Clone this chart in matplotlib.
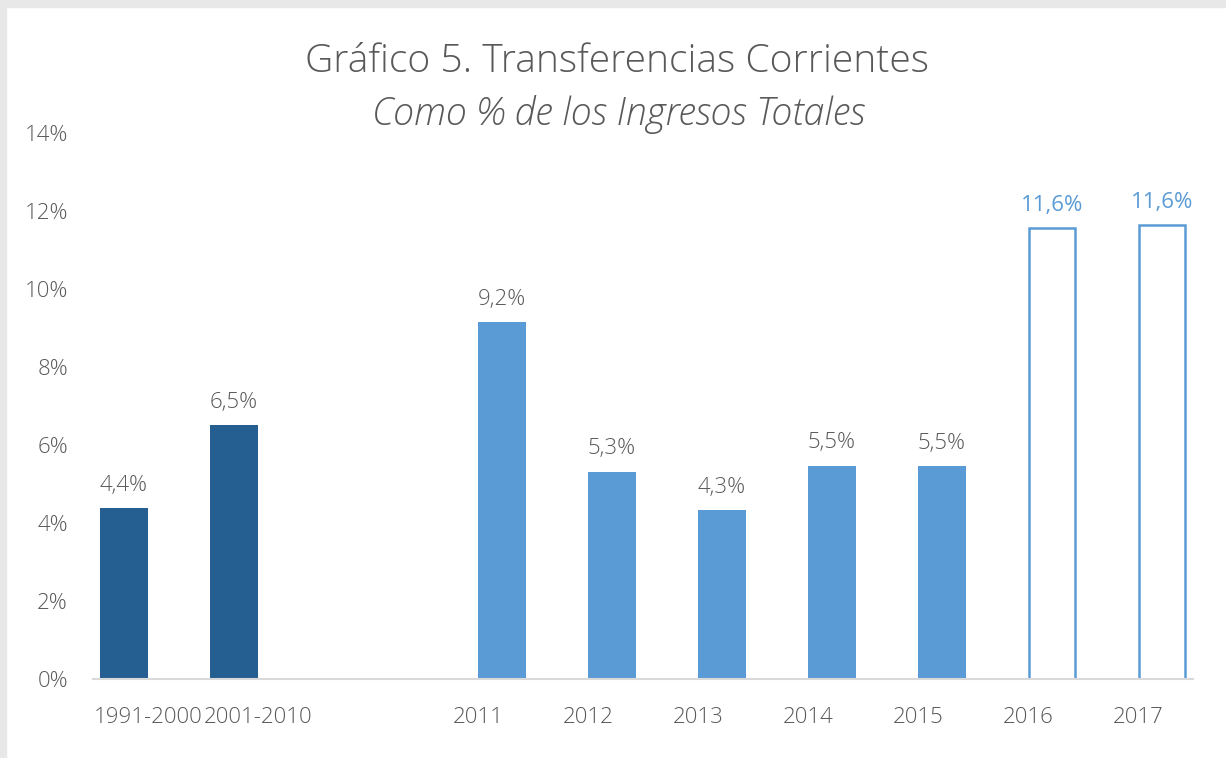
import matplotlib.pyplot as plt
from matplotlib.patches import Rectangle
import numpy as np

# datos
categorias = ['1991-2000', '2001-2010', '', '2011', '2012', '2013', '2014', '2015', '2016', '2017']
periodos = [4.38, 6.51]            # promedios 1991-2000, 2001-2010
anuales = [9.15, 5.31, 4.33, 5.47, 5.46]   # 2011-2015
proyeccion = [11.56, 11.63]        # 2016-2017

oscuro = '#255e91'
claro = '#5b9bd5'
gris = '#595959'

plt.rcParams['font.family'] = ['Open Sans', 'DejaVu Sans']

W, H = 1226, 758
fig = plt.figure(figsize=(W / 100, H / 100), dpi=100)

# marco gris arriba e izquierda
fig.patches.append(Rectangle((0, 1 - 7 / H), 1, 7 / H, transform=fig.transFigure,
                             color='#e8e8e8', zorder=0))
fig.patches.append(Rectangle((0, 0), 6 / W, 1, transform=fig.transFigure,
                             color='#e8e8e8', zorder=0))

ax = fig.add_axes([93 / W, (H - 679) / H, 1100 / W, 546 / H])

x = np.arange(len(categorias))
ancho = 0.436
off = ancho / 2

b1 = ax.bar(x[0:2] - off, periodos, ancho, color=oscuro)
b2 = ax.bar(x[3:8] + off, anuales, ancho, color=claro)
b3 = ax.bar(x[8:10] + off, proyeccion, ancho - 0.02, facecolor='white',
            edgecolor=claro, linewidth=1.8)

fmt = lambda v: f'{v:.1f}%'.replace('.', ',')
for bars, vals, col, peso in [(b1, periodos, gris, 'light'), (b2, anuales, gris, 'light'),
                              (b3, proyeccion, claro, 'normal')]:
    for r, v in zip(bars, vals):
        ax.annotate(fmt(v), (r.get_x() + r.get_width() / 2, v), xytext=(0, 9),
                    textcoords='offset points', ha='center', va='bottom',
                    fontsize=16, color=col, fontweight=peso)

ax.set_xlim(-0.5, len(categorias) - 0.5)
ax.set_ylim(0, 14)
ax.set_yticks(np.arange(0, 15, 2))
ax.set_yticklabels([f'{t}%' for t in range(0, 15, 2)])
ax.set_xticks(x)
ax.set_xticklabels(categorias)
ax.tick_params(axis='both', length=0, labelsize=16, labelcolor=gris)
ax.tick_params(axis='x', pad=20)
ax.tick_params(axis='y', pad=18)
for lbl in ax.get_xticklabels() + ax.get_yticklabels():
    lbl.set_fontweight('light')
for s in ['top', 'right', 'left']:
    ax.spines[s].set_visible(False)
ax.spines['bottom'].set_color('#d9d9d9')
ax.spines['bottom'].set_linewidth(1.5)

fig.text(617 / W, 1 - 62 / H, 'Gráfico 5. Transferencias Corrientes', ha='center',
         va='center', fontsize=28.1, color=gris, fontweight='light')
fig.text(619 / W, 1 - 114 / H, 'Como % de los Ingresos Totales', ha='center',
         va='center', fontsize=27, color=gris, style='italic', fontweight='light')

fig.savefig('out.png', dpi=100)
